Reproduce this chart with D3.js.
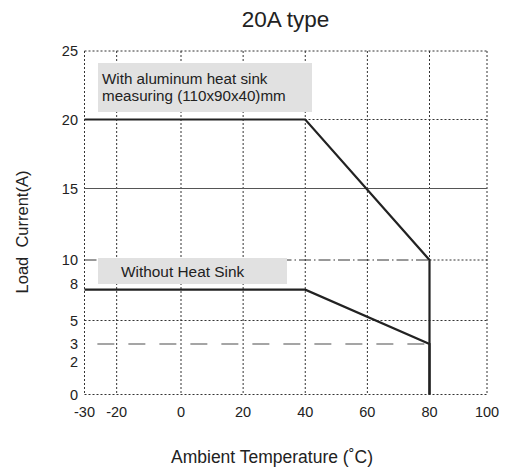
<!DOCTYPE html>
<html>
<head>
<meta charset="utf-8">
<script src="https://cdn.jsdelivr.net/npm/d3@7"></script>
<style>
  body { margin: 0; background: #fff; }
  text { font-family: "Liberation Sans", Arial, sans-serif; fill: #222; }
</style>
</head>
<body>
<script>
// data
var xTicks = [-30, -20, 0, 20, 40, 60, 80, 100];
var yTicks = [0, 2, 3, 5, 8, 10, 15, 20, 25];
var yGrid = [0, 5, 20, 25];
var withSinkTemp = [-30, 40, 80, 80];
var withSinkLoad = [20, 20, 10, 0];
var noSinkTemp = [-30, 40, 80, 80];
var noSinkLoad = [7.5, 7.5, 3, 0];
var solidRef = 15;          // thin solid line
var dashDotRef = 10;        // dash-dot line up to 80
var dashedRef = 3;          // long dashed gray line
var dashedFrom = -26;

var width = 507, height = 471;

var svg = d3.select("body").append("svg")
  .attr("width", width)
  .attr("height", height);

// scale of the drawing is not even, so piecewise
var x = d3.scaleLinear()
  .domain([-30, 0, 80, 100])
  .range([84.5, 181, 429.5, 487]);
var y = d3.scaleLinear()
  .domain([0, 2, 3, 5, 8, 10, 15, 20, 25])
  .range([394.5, 362, 344, 320.5, 283.5, 260, 188.5, 119.5, 51]);

// vertical dotted grid
svg.selectAll(".vgrid")
  .data(xTicks)
  .enter()
  .append("line")
  .attr("x1", function(d){ return x(d); })
  .attr("x2", function(d){ return x(d); })
  .attr("y1", y(25))
  .attr("y2", y(0))
  .attr("stroke", "#333")
  .attr("stroke-width", 1)
  .attr("stroke-dasharray", "2,2");

// horizontal dotted grid
svg.selectAll(".hgrid")
  .data(yGrid)
  .enter()
  .append("line")
  .attr("x1", x(-30))
  .attr("x2", x(100))
  .attr("y1", function(d){ return y(d); })
  .attr("y2", function(d){ return y(d); })
  .attr("stroke", "#333")
  .attr("stroke-width", 1)
  .attr("stroke-dasharray", "2,2");

svg.append("line")
  .attr("x1", x(-30)).attr("x2", x(100))
  .attr("y1", y(solidRef)).attr("y2", y(solidRef))
  .attr("stroke", "#555")
  .attr("stroke-width", 1);

svg.append("line")
  .attr("x1", x(-30)).attr("x2", x(80))
  .attr("y1", y(dashDotRef)).attr("y2", y(dashDotRef))
  .attr("stroke", "#333")
  .attr("stroke-width", 1)
  .attr("stroke-dasharray", "12,3,1.5,3");
svg.append("line")
  .attr("x1", x(80)).attr("x2", x(100))
  .attr("y1", y(dashDotRef)).attr("y2", y(dashDotRef))
  .attr("stroke", "#333")
  .attr("stroke-width", 1)
  .attr("stroke-dasharray", "2,2");

svg.append("line")
  .attr("x1", x(dashedFrom)).attr("x2", x(80))
  .attr("y1", y(dashedRef)).attr("y2", y(dashedRef))
  .attr("stroke", "#888")
  .attr("stroke-width", 1.5)
  .attr("stroke-dasharray", "17,14");

// label boxes
svg.append("rect")
  .attr("x", 98).attr("y", 63)
  .attr("width", 214).attr("height", 49)
  .attr("fill", "#e1e1e1");
svg.append("text")
  .text("With aluminum heat sink")
  .attr("x", 102).attr("y", 84)
  .attr("font-size", "15.2px");
svg.append("text")
  .text("measuring (110x90x40)mm")
  .attr("x", 102).attr("y", 100.5)
  .attr("font-size", "15.2px");

svg.append("rect")
  .attr("x", 98).attr("y", 258)
  .attr("width", 189).attr("height", 26)
  .attr("fill", "#e1e1e1");
svg.append("text")
  .text("Without Heat Sink")
  .attr("x", 121).attr("y", 276.5)
  .attr("font-size", "15.4px");

// derating curves
var line = d3.line()
  .x(function(d){ return x(d[0]); })
  .y(function(d){ return y(d[1]); });

[[withSinkTemp, withSinkLoad], [noSinkTemp, noSinkLoad]].forEach(function(s){
  svg.append("path")
    .datum(d3.zip(s[0], s[1]))
    .attr("d", line)
    .attr("fill", "none")
    .attr("stroke", "#222")
    .attr("stroke-width", 2.2)
    .attr("stroke-linejoin", "miter");
});

// tick labels
svg.selectAll(".ylab")
  .data(yTicks)
  .enter()
  .append("text")
  .text(function(d){ return d; })
  .attr("x", 78)
  .attr("y", function(d){ return y(d); })
  .attr("dy", "0.35em")
  .attr("text-anchor", "end")
  .attr("font-size", "14.5px");

svg.selectAll(".xlab")
  .data(xTicks)
  .enter()
  .append("text")
  .text(function(d){ return d; })
  .attr("x", function(d){ return x(d); })
  .attr("y", 416.5)
  .attr("text-anchor", "middle")
  .attr("font-size", "14.5px");

// titles
svg.append("text")
  .text("20A type")
  .attr("x", 285.5)
  .attr("y", 27)
  .attr("text-anchor", "middle")
  .attr("font-size", "22.5px");

svg.append("text")
  .text("Ambient Temperature (\u02DAC)")
  .attr("x", 272)
  .attr("y", 463)
  .attr("text-anchor", "middle")
  .attr("font-size", "17.5px");

svg.append("text")
  .text("Load  Current(A)")
  .attr("transform", "translate(27.5,232) rotate(-90)")
  .attr("text-anchor", "middle")
  .attr("font-size", "16.5px")
  .style("white-space", "pre");
</script>
</body>
</html>
